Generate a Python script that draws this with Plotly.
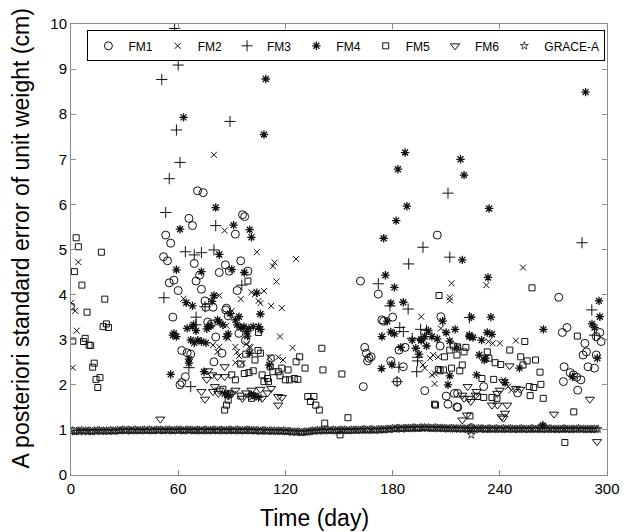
import plotly.graph_objects as go

# ---------------- data ----------------
fm1_day = [70.8, 74, 96, 97.2, 66, 68, 92, 53, 55.8, 51.8, 54, 69, 95, 86.4, 88.6, 83, 72, 99,
           57.6, 55, 70, 73, 60, 93, 75, 79.5, 75.5, 87, 57, 88, 76.5, 78.6, 94, 81, 97.6, 62,
           65, 67, 84.5, 80, 64, 61, 62, 86.6,
           205, 162, 172, 180, 174, 175, 207, 206.6, 187, 183.6, 164.4, 165.3, 166.8, 168, 166,
           179, 186, 163.6, 182.5, 198, 210, 214.6, 211, 216.5, 216.4,
           273, 277.6, 275, 296, 296.7, 294, 287.6, 286.6, 288.5, 289.4, 293, 294, 276, 279.4,
           281.2, 283, 285.4, 283.6, 275.6, 250, 231, 224, 216]
fm1_val = [6.30, 6.26, 5.77, 5.73, 5.69, 5.53, 5.34, 5.32, 5.14, 4.84, 4.75, 4.69, 4.75, 4.66, 4.52, 4.49, 4.43, 4.52,
           4.32, 4.26, 4.30, 4.12, 4.09, 4.09, 3.86, 3.72, 3.72, 3.70, 3.50, 3.53, 3.39, 3.35, 3.14, 3.06, 2.98, 2.76,
           2.71, 2.68, 2.70, 2.51, 2.18, 2.00, 2.05, 3.66,
           5.32, 4.30, 4.01, 3.50, 3.44, 3.41, 3.51, 2.86, 2.83, 2.77, 2.83, 2.70, 2.59, 2.62, 2.53,
           2.53, 2.40, 1.96, 2.07, 1.87, 1.75, 1.81, 1.57, 1.50, 1.81,
           3.94, 3.27, 3.16, 3.16, 2.96, 3.07, 2.92, 2.66, 2.73, 2.40, 2.37, 2.66, 2.40, 2.27,
           2.22, 2.17, 2.11, 1.88, 2.07, 1.82, 1.96, 1.05, 1.51]

fm2_day = [4.1, 0.1, 2.3, 3.2, 1,
           80, 86, 104, 126, 114, 113, 115, 101, 103, 108, 83, 63, 95, 105, 106, 112, 118, 90, 87,
           88, 117, 79.5, 83, 82, 98, 99.8, 100.5, 124, 93, 94, 111, 116, 118.7, 92, 96, 92,
           213, 212, 212, 196, 207, 201, 202.7, 205.5, 197, 198, 202, 203.6, 203.5,
           253, 232.5, 233.6, 236, 240, 249, 242, 244.7, 246.5]
fm2_val = [4.72, 3.82, 3.64, 3.20, 2.38,
           7.10, 5.42, 4.94, 4.79, 4.71, 4.63, 4.29, 4.05, 4.01, 4.08, 3.98, 3.91, 3.90, 3.86, 3.81, 3.75, 3.70, 3.64, 3.31,
           3.03, 3.07, 2.88, 2.84, 2.73, 2.90, 2.84, 2.83, 2.82, 2.73, 2.64, 2.61, 2.61, 2.55, 2.49, 2.48, 2.84,
           4.25, 3.94, 3.87, 3.51, 3.25, 2.59, 2.66, 2.62, 2.44, 2.37, 2.22, 2.25, 2.02,
           4.60, 4.21, 2.96, 2.92, 2.92, 2.98, 2.11, 1.96, 1.88]

fm3_day = [58, 60, 50.8, 89, 59, 61, 55, 53, 81, 64, 69, 73, 80, 95.6, 52, 70, 66, 67, 70, 75,
           211, 197, 212, 189, 172, 178.5, 188.7, 223, 184, 186, 195.7, 199, 191, 194, 194,
           183.5, 193.5, 182.5, 286, 291.5, 293]
fm3_val = [9.90, 9.09, 8.77, 7.84, 7.65, 6.93, 6.57, 5.82, 5.53, 4.95, 4.88, 4.93, 4.99, 4.21, 3.93, 3.50, 2.38, 1.96, 3.33, 3.73,
           6.25, 5.05, 4.83, 4.68, 4.24, 3.75, 3.68, 3.49, 3.27, 3.18, 3.23, 3.21, 3.03, 2.61, 2.53,
           2.39, 2.29, 2.07, 5.15, 3.66, 3.10]

fm4_day = [109, 63, 108, 81, 61, 91, 100, 101, 83, 59, 90, 73, 97, 104, 80, 64.5, 68, 79, 89, 106,
           94, 82, 85, 83, 92, 93, 95, 77, 76, 78, 65, 68, 70, 68.6, 96.8, 99.6, 98.3, 102, 105, 106,
           57.6, 59, 57, 88, 87, 98.7, 67, 69, 71, 73, 75.5, 66, 66, 111, 74.5, 55.8, 100, 86, 88,
           101, 103, 105,
           187, 183, 218, 220, 188, 182, 175, 219, 176, 181, 179, 186, 177, 208, 179, 181, 174,
           191, 196, 197.9, 202, 205, 212, 216, 223, 184.6, 193, 194.8, 199, 196, 179.6, 173.8,
           211, 212, 210, 215, 200,
           288, 234, 233.4, 295.5, 296, 224, 235, 264.4, 291.6, 293, 223, 225, 229.8, 233, 235.6,
           294.6, 228.5, 231.3, 232, 251, 280.7, 227, 243, 264]
fm4_val = [8.78, 7.93, 7.55, 5.93, 5.45, 5.54, 5.44, 5.27, 4.89, 4.55, 4.56, 4.51, 4.49, 4.04, 3.98, 3.82, 3.75, 3.85, 3.58, 3.57,
           3.51, 3.44, 3.33, 3.39, 3.44, 3.33, 3.27, 3.29, 3.24, 3.31, 3.25, 3.29, 3.20, 3.33, 3.29, 3.25, 3.18, 3.29, 3.29, 3.23,
           3.14, 3.07, 3.10, 3.13, 3.07, 3.08, 2.99, 2.93, 2.99, 2.96, 2.93, 2.57, 2.48, 2.44, 2.29, 2.23, 2.70, 1.80, 1.78,
           1.78, 1.75, 1.72,
           7.15, 6.78, 7.00, 6.65, 5.96, 5.64, 5.25, 4.77, 4.43, 4.16, 3.81, 3.83, 3.41, 3.41, 3.17, 3.13, 3.07,
           2.99, 2.98, 3.07, 3.07, 3.02, 2.97, 2.82, 3.10, 2.83, 2.81, 2.68, 2.86, 3.01, 2.45, 2.36,
           2.00, 2.20, 3.16, 3.23, 3.20,
           8.49, 5.91, 4.38, 3.86, 3.51, 3.50, 3.50, 3.23, 3.35, 3.27, 3.07, 3.05, 2.99, 3.16, 3.12,
           2.59, 2.66, 2.55, 2.59, 2.37, 2.18, 2.22, 2.05, 1.10]

fm5_day = [2.9, 4.1, 17, 1.9, 6.1, 18.9, 0.1, 9, 19.8, 18, 21, 7.9, 7, 1, 10.1, 11, 13, 12.1, 16.2, 14, 15,
           99, 105, 97.8, 104.7, 106, 103, 112, 128, 126, 95, 111.5, 116, 113, 121.5, 118, 131, 97, 99.6,
           102, 90, 92, 107, 110, 110.5, 108, 117, 120, 122.4, 125, 127, 89, 88, 87, 86, 132.5, 134, 95,
           101, 85,
           141, 151.6, 140.4, 136, 137, 139, 155, 142, 150.6,
           206, 209, 212, 216, 213, 217.6, 208.5, 206.6, 219, 205.6, 203.5, 204, 214, 216.4, 220, 221,
           258, 283.4, 254, 245.6, 233, 233.9, 251.7, 253, 255.3, 260, 262.5, 237.4, 240.5, 230, 236.6,
           256.5, 259, 263, 257, 264.3, 227.4, 231, 235.6, 238.4, 281.4, 223.3, 276.4]
fm5_val = [5.26, 5.06, 4.94, 4.51, 4.21, 3.90, 3.73, 3.61, 3.35, 3.29, 3.27, 3.03, 2.96, 2.97, 2.88, 2.87, 2.48, 2.39, 2.16, 2.12, 1.94,
           4.30, 3.16, 2.68, 2.76, 2.70, 2.55, 2.59, 2.62, 2.51, 2.46, 2.40, 2.29, 2.29, 2.33, 2.37, 2.37, 2.25, 2.27,
           2.31, 2.22, 2.11, 2.22, 2.14, 2.07, 2.07, 2.20, 2.11, 2.11, 2.14, 2.12, 1.81, 1.66, 1.55, 1.44, 1.74, 1.63, 1.75,
           1.70, 1.90,
           2.33, 2.24, 2.81, 1.74, 1.55, 1.44, 1.27, 1.15, 0.89,
           3.98, 2.62, 2.77, 2.66, 2.37, 2.31, 2.33, 2.31, 2.44, 2.34, 1.57, 1.55, 2.86, 2.84, 2.73, 2.83,
           4.15, 3.08, 2.96, 2.77, 2.73, 2.59, 2.62, 2.44, 2.53, 2.55, 2.28, 2.49, 2.45, 2.14, 2.12,
           1.96, 1.94, 2.01, 1.76, 1.70, 1.74, 1.72, 1.72, 1.70, 1.40, 1.31, 0.72]

fm6_day = [50, 86, 76.8, 79, 82, 86, 76, 80.5, 79.5, 83, 82.5, 73, 75, 92, 98, 101, 106, 110, 112,
           96, 100, 102, 107, 116, 118, 116, 88, 90,
           222, 219, 220, 219, 221.6, 245.5, 242, 240, 238.6, 249, 251.5, 227, 226.5, 222.8, 223.7,
           235.6, 238.7, 244.1, 241, 242.9, 242, 290.4, 270.3, 294.4]
fm6_val = [1.24, 2.40, 2.31, 2.22, 2.18, 2.18, 2.12, 1.96, 1.85, 1.88, 1.81, 1.85, 1.68, 1.88, 1.82, 1.88, 1.90, 1.82, 1.92,
           1.70, 1.75, 1.77, 1.70, 1.74, 1.72, 1.55, 1.75, 1.80,
           1.96, 1.77, 1.70, 1.22, 1.33, 2.42, 2.07, 1.88, 1.81, 1.92, 1.90, 1.85, 1.77, 1.70, 1.63,
           1.55, 1.55, 1.55, 1.29, 1.37, 1.26, 1.68, 1.35, 0.74]

grace_day = list(range(296)) + [224, 264]
grace_val = [
    0.97, 0.98, 0.96, 0.97, 0.98, 0.97, 0.99, 0.96, 0.98, 0.97, 0.98, 0.97, 0.96, 0.98, 0.97, 0.99, 0.98, 0.97, 0.98, 0.97,
    0.98, 0.97, 0.99, 0.98, 0.97, 0.98, 0.99, 0.98, 0.99, 1.00, 0.99, 0.98, 1.00, 0.99, 0.98, 0.99, 1.00, 0.99, 0.98, 0.99,
    0.99, 1.00, 0.98, 0.99, 1.00, 0.99, 0.98, 0.99, 1.00, 0.99, 1.00, 0.99, 0.98, 1.00, 0.99, 1.00, 0.99, 0.98, 0.99, 1.00,
    0.99, 1.00, 0.99, 0.98, 0.99, 1.00, 0.99, 1.00, 0.99, 0.98, 0.99, 1.00, 0.99, 0.98, 0.99, 1.00, 0.99, 0.98, 0.99, 0.99,
    1.00, 0.99, 0.98, 0.99, 1.00, 0.99, 0.98, 0.99, 0.99, 1.00, 0.99, 0.98, 0.99, 1.00, 0.99, 0.98, 0.99, 0.98, 0.99, 1.00,
    0.99, 0.98, 0.99, 0.98, 0.99, 0.98, 0.97, 0.98, 0.99, 0.98, 0.97, 0.98, 0.98, 0.97, 0.98, 0.97, 0.98, 0.97, 0.97, 0.98,
    0.97, 0.96, 0.97, 0.96, 0.95, 0.96, 0.95, 0.96, 0.95, 0.94, 0.95, 0.96, 0.95, 0.96, 0.97, 0.98, 0.97, 0.98, 0.99, 0.98,
    0.99, 0.98, 0.99, 1.00, 0.99, 0.98, 0.99, 1.00, 0.99, 0.98, 0.99, 1.00, 0.99, 1.00, 0.99, 0.98, 0.99, 1.00, 0.99, 1.00,
    0.99, 1.00, 0.99, 1.00, 1.01, 1.00, 0.99, 1.00, 1.01, 1.00, 0.99, 1.00, 1.01, 1.00, 1.01, 1.00, 1.01, 1.02, 1.01, 1.02,
    1.03, 1.02, 1.03, 1.04, 1.03, 1.02, 1.03, 1.04, 1.03, 1.04, 1.03, 1.04, 1.05, 1.04, 1.03, 1.04, 1.05, 1.04, 1.05, 1.04,
    1.05, 1.04, 1.03, 1.04, 1.05, 1.04, 1.03, 1.04, 1.03, 1.04, 1.03, 1.02, 1.03, 1.04, 1.03, 1.02, 1.03, 1.02, 1.03, 1.02,
    1.03, 1.02, 1.01, 1.02, 1.03, 1.02, 1.01, 1.02, 1.03, 1.02, 1.03, 1.02, 1.01, 1.02, 1.03, 1.02, 1.01, 1.02, 1.03, 1.02,
    1.01, 1.02, 1.03, 1.02, 1.01, 1.02, 1.03, 1.02, 1.01, 1.02, 1.01, 1.02, 1.03, 1.02, 1.01, 1.02, 1.01, 1.02, 1.03, 1.02,
    1.01, 1.02, 1.03, 1.02, 1.01, 1.02, 1.01, 1.02, 1.03, 1.02, 1.01, 1.02, 1.01, 1.02, 1.01, 1.02, 1.03, 1.02, 1.01, 1.02,
    1.01, 1.02, 1.01, 1.02, 1.03, 1.02, 1.01, 1.02, 1.01, 1.02, 1.01, 1.02, 1.01, 1.02, 1.01, 1.02,
    0.89, 1.10]

x_ticks = [0, 60, 120, 180, 240, 300]
y_ticks = [0, 1, 2, 3, 4, 5, 6, 7, 8, 9, 10]

series = [
    ("FM1", fm1_day, fm1_val, "circle-open", 8, 1.0),
    ("FM2", fm2_day, fm2_val, "x-thin-open", 6, 1.0),
    ("FM3", fm3_day, fm3_val, "cross-thin-open", 8, 1.0),
    ("FM4", fm4_day, fm4_val, "asterisk-open", 7, 1.3),
    ("FM5", fm5_day, fm5_val, "square-open", 6, 1.0),
    ("FM6", fm6_day, fm6_val, "triangle-down-open", 8, 1.0),
    ("GRACE-A", grace_day, grace_val, "star-open", 6, 0.8),
]

FONT = "Liberation Sans, Arial, sans-serif"

fig = go.Figure()
for name, xs, ys, sym, size, lw in series:
    fig.add_trace(go.Scatter(
        x=xs, y=ys, mode="markers", name=name,
        marker=dict(symbol=sym, size=size, color="#111111",
                    line=dict(color="#111111", width=lw)),
    ))

axis_common = dict(
    showline=True, linecolor="#8c8c8c", linewidth=1, mirror="allticks",
    ticks="inside", ticklen=5, tickcolor="#8c8c8c", tickwidth=1,
    showgrid=False, zeroline=False,
    tickfont=dict(family=FONT, size=15, color="#000000"),
)

fig.update_layout(
    width=632, height=532,
    margin=dict(l=71, r=13, t=24, b=57),
    paper_bgcolor="white", plot_bgcolor="white",
    font=dict(family=FONT, color="#000000"),
    showlegend=True,
    legend=dict(
        orientation="h", x=0.997, y=0.986, xanchor="right", yanchor="top",
        bgcolor="white", bordercolor="#000000", borderwidth=1,
        font=dict(family=FONT, size=12), itemsizing="trace",
        tracegroupgap=0,
    ),
    xaxis=dict(range=[0, 300], tickvals=x_ticks, **axis_common),
    yaxis=dict(range=[0, 10], tickvals=y_ticks, **axis_common),
    annotations=[
        dict(text="Time (day)", xref="paper", yref="paper", x=0.455, y=-0.095,
             xanchor="center", yanchor="middle", showarrow=False,
             font=dict(family=FONT, size=23)),
        dict(text="A posteriori standard error of unit weight (cm)", xref="paper", yref="paper",
             x=-0.093, y=0.525, xanchor="center", yanchor="middle", textangle=-90, showarrow=False,
             font=dict(family=FONT, size=23)),
    ],
)

fig.write_html("out.html", config={"displayModeBar": False},
               post_script="document.body.style.margin='0px';")
